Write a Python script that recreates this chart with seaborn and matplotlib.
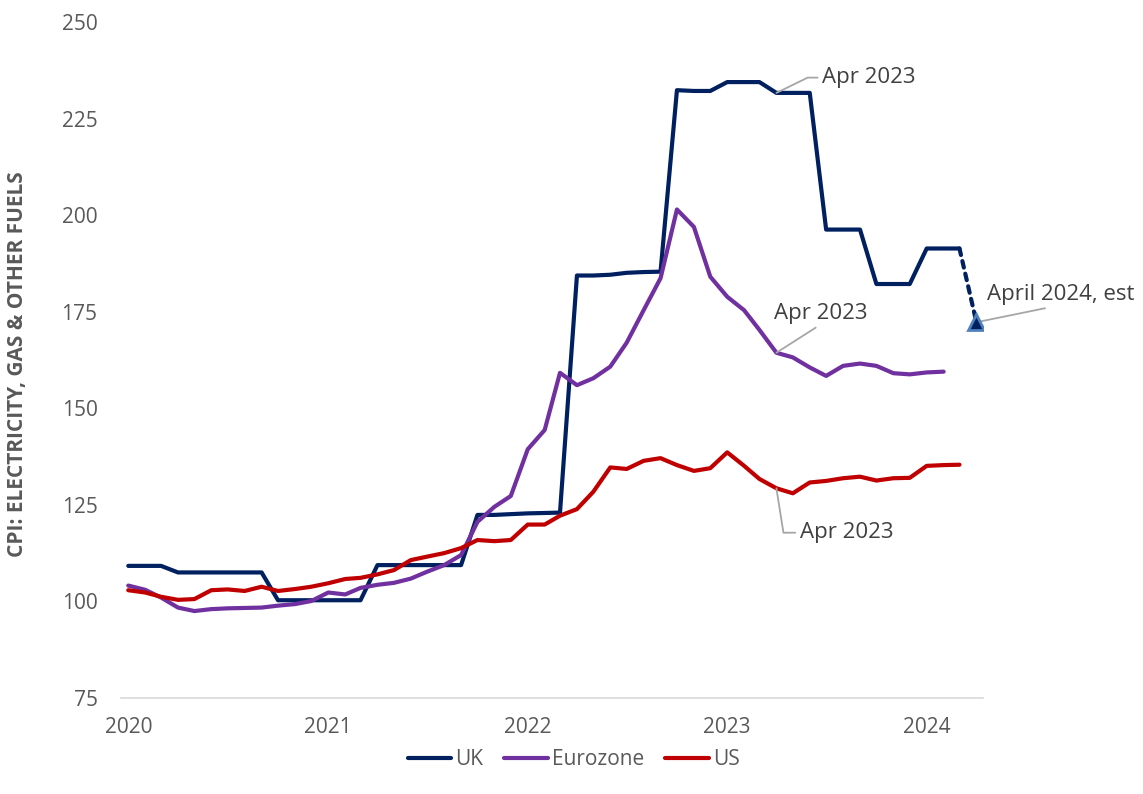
import pandas as pd
import numpy as np
import matplotlib
matplotlib.use('Agg')
import matplotlib.pyplot as plt
import seaborn as sns

# Monthly CPI index values (Jan 2020 = first point)
uk = [109.2, 109.2, 109.2, 107.5, 107.5, 107.5, 107.5, 107.5, 107.5, 100.3, 100.3, 100.3,
      100.3, 100.3, 100.3, 109.4, 109.4, 109.4, 109.4, 109.4, 109.4, 122.4, 122.4, 122.6,
      122.8, 122.9, 123.0, 184.4, 184.4, 184.6, 185.1, 185.3, 185.4, 232.4, 232.2, 232.2,
      234.5, 234.5, 234.5, 231.7, 231.7, 231.7, 196.3, 196.3, 196.3, 182.2, 182.2, 182.2,
      191.4, 191.4, 191.4]
eurozone = [104.1, 103.0, 101.0, 98.4, 97.5, 98.0, 98.2, 98.3, 98.4, 98.9, 99.3, 100.1,
            102.3, 101.8, 103.5, 104.3, 104.8, 105.9, 107.7, 109.4, 112.0, 120.6, 124.5, 127.3,
            139.4, 144.4, 159.2, 156.0, 157.8, 160.8, 167.0, 175.4, 183.7, 201.5, 197.0, 184.1,
            178.9, 175.4, 170.3, 164.4, 163.2, 160.6, 158.4, 161.0, 161.6, 161.0, 159.1, 158.8,
            159.3, 159.5]
us = [102.9, 102.3, 101.2, 100.4, 100.6, 102.9, 103.1, 102.7, 103.8, 102.7, 103.2, 103.8,
      104.7, 105.8, 106.1, 107.0, 108.1, 110.7, 111.6, 112.5, 113.8, 115.9, 115.6, 115.9,
      119.9, 119.9, 122.2, 123.9, 128.4, 134.7, 134.3, 136.4, 137.1, 135.3, 133.8, 134.5,
      138.6, 135.1, 131.7, 129.3, 128.0, 130.8, 131.2, 131.9, 132.3, 131.3, 131.9, 132.0,
      135.1, 135.3, 135.4]
uk_est_date = '2024-04-01'
uk_est = 172.3

years = [2020, 2021, 2022, 2023, 2024]
colors = {'UK': '#002060', 'Eurozone': '#7030A0', 'US': '#C00000'}

def monthly(vals):
    return pd.DataFrame({'date': pd.date_range('2020-01-01', periods=len(vals), freq='MS'),
                         'value': vals})

df_uk = monthly(uk)
df_ez = monthly(eurozone)
df_us = monthly(us)
df_est = pd.DataFrame({'date': [df_uk['date'].iloc[-1], pd.Timestamp(uk_est_date)],
                       'value': [uk[-1], uk_est]})

sns.set_style('white')
plt.rcParams['font.family'] = ['Open Sans', 'DejaVu Sans']

fig = plt.figure(figsize=(11.43, 7.94), dpi=100)
ax = fig.add_axes([0.106, 0.121, 0.754, 0.851])

lw = 3.0
line_kw = dict(linewidth=lw, solid_joinstyle='round', solid_capstyle='round')
sns.lineplot(data=df_uk, x='date', y='value', color=colors['UK'], label='UK', ax=ax, **line_kw)
sns.lineplot(data=df_ez, x='date', y='value', color=colors['Eurozone'], label='Eurozone', ax=ax, **line_kw)
sns.lineplot(data=df_us, x='date', y='value', color=colors['US'], label='US', ax=ax, **line_kw)

# dashed estimate for April 2024
ax.plot(df_est['date'], df_est['value'], color=colors['UK'], linewidth=lw,
        linestyle=(0, (1.6, 1.5)), dash_capstyle='round')
ax.plot(df_est['date'].iloc[-1:], df_est['value'].iloc[-1:], marker='^', markersize=12,
        markerfacecolor=colors['UK'], markeredgecolor='#4F81BD', markeredgewidth=2,
        linestyle='none', zorder=5)

# axes styling
ax.set_ylim(75, 250)
ax.set_yticks([75, 100, 125, 150, 175, 200, 225, 250])
ax.set_xlim(pd.Timestamp('2019-12-19'), pd.Timestamp('2024-04-13'))
ax.set_xticks([pd.Timestamp(f'{y}-01-01') for y in years])
ax.set_xticklabels([str(y) for y in years])
ax.set_xlabel('')
ax.set_ylabel('')
for s in ['top', 'right', 'left']:
    ax.spines[s].set_visible(False)
ax.spines['bottom'].set_color('#D9D9D9')
ax.spines['bottom'].set_linewidth(1.2)
ax.tick_params(axis='both', length=0, labelsize=15, labelcolor='#595959')
ax.tick_params(axis='y', pad=17)
ax.tick_params(axis='x', pad=14)

fig.text(0.0157, 0.542, 'CPI: ELECTRICITY, GAS & OTHER FUELS', rotation=90,
         ha='center', va='center', fontsize=15, fontweight='bold', color='#595959')

# annotations
ann_kw = dict(fontsize=16, color='#404040', textcoords='offset points', annotation_clip=False)
leader = dict(arrowstyle='-', color='#A6A6A6', linewidth=1.3, shrinkB=0)
apr23 = pd.Timestamp('2023-04-01')

ax.annotate('Apr 2023', xy=(apr23, uk[39]), xytext=(33, 11), ha='left', va='center',
            arrowprops=dict(leader, connectionstyle='angle,angleA=0,angleB=26,rad=0',
                            relpos=(0, 0.5), shrinkA=1), **ann_kw)
ax.annotate('Apr 2023', xy=(apr23, eurozone[39]), xytext=(32, 28), ha='center', va='center',
            arrowprops=dict(leader, relpos=(0.5, 0), shrinkA=0), **ann_kw)
ax.annotate('Apr 2023', xy=(apr23, us[39]), xytext=(17, -32), ha='left', va='center',
            arrowprops=dict(leader, connectionstyle='angle,angleA=0,angleB=99,rad=0',
                            relpos=(0, 0.5), shrinkA=1), **ann_kw)
ax.annotate('April 2024, est', xy=(pd.Timestamp(uk_est_date), uk_est), xytext=(61, 20),
            ha='center', va='center',
            arrowprops=dict(leader, relpos=(0.5, 0), shrinkA=0), **ann_kw)

# legend below chart
ax.get_legend().remove()
handles, labels = ax.get_legend_handles_labels()
leg = fig.legend(handles[:3], labels[:3], loc='center', bbox_to_anchor=(0.502, 0.043),
                 ncol=3, frameon=False, fontsize=15, handlelength=2.1, handletextpad=0.2,
                 columnspacing=1.0)
for t in leg.get_texts():
    t.set_color('#595959')

fig.savefig('out.png', dpi=100)
